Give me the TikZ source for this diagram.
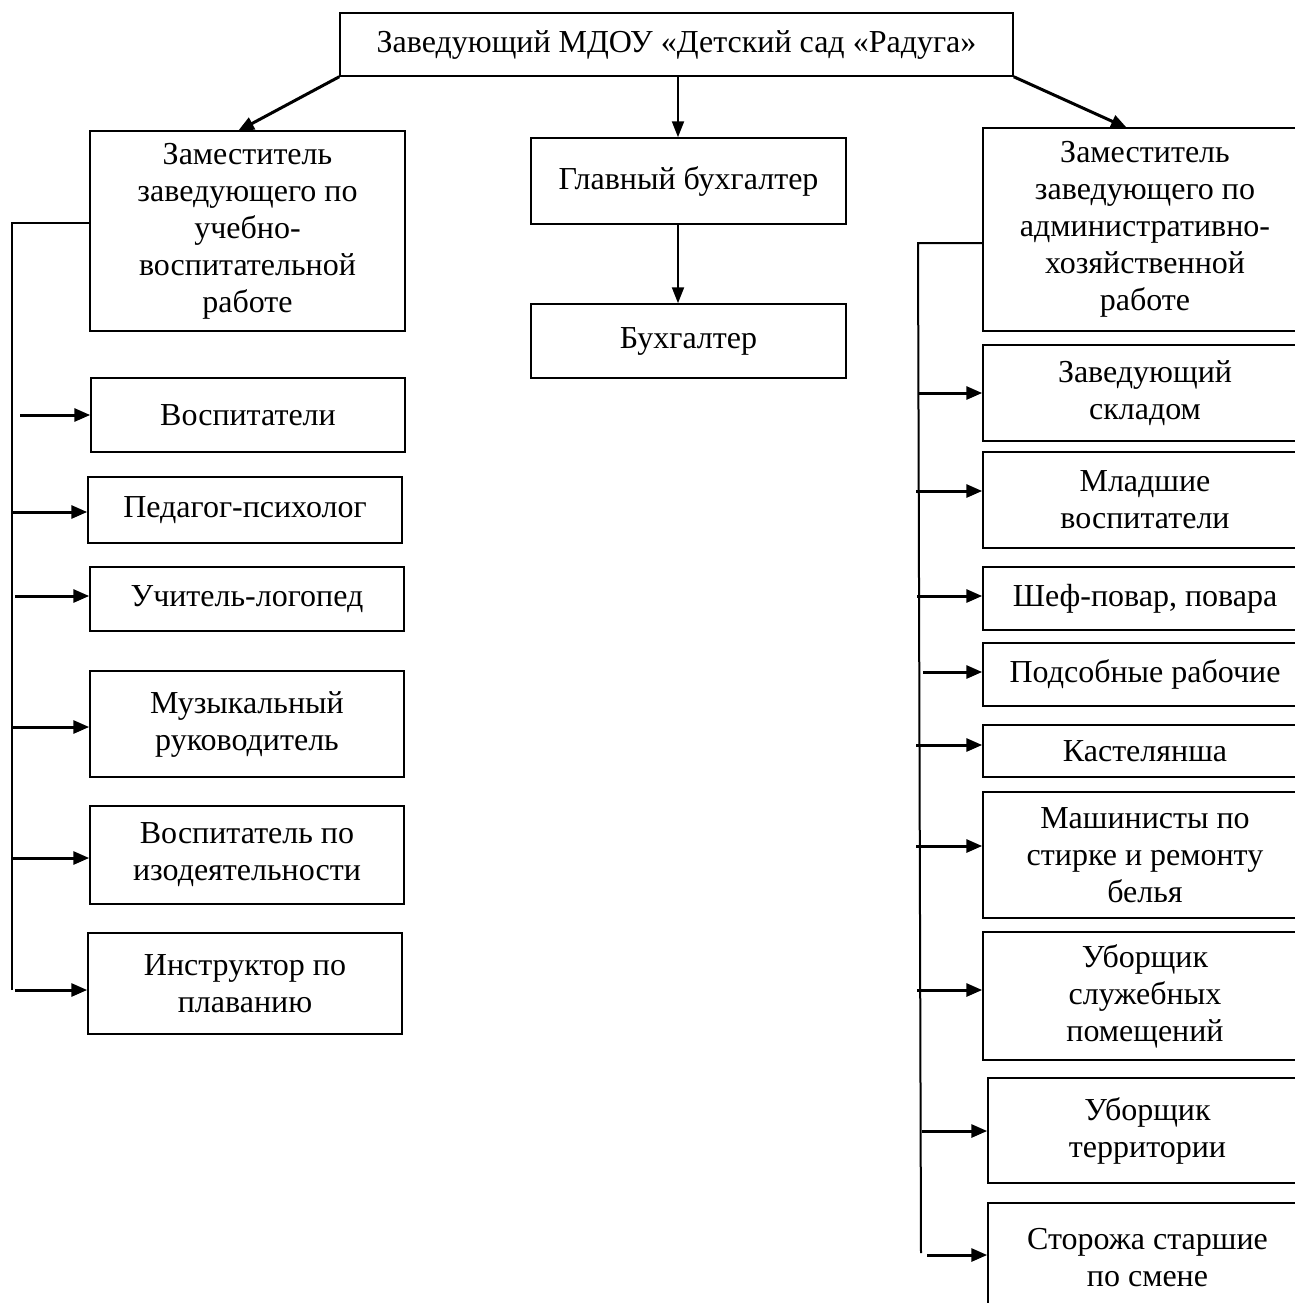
\documentclass[tikz,border=0pt]{standalone}
\usepackage{fontspec}
\setmainfont{Liberation Serif}
\usetikzlibrary{arrows.meta}
\tikzset{
  box/.style={draw, line width=0.75pt, inner sep=0pt, align=center, font=\fontsize{16}{18.5}\selectfont},
  rbox/.style={box, minimum width=162pt},
  arr/.style={line width=1.5pt, -{Triangle[length=8pt,width=6.5pt]}},
  varr/.style={line width=1pt, -{Triangle[length=8pt,width=6pt]}},
  bus/.style={line width=1pt}
}
\begin{document}
\begin{tikzpicture}[x=0.5pt,y=-0.5pt]
\useasboundingbox (0,0) rectangle (1295,1303);
\clip (0,0) rectangle (1295,1303);
% top
\node[box, minimum width=336.5pt, minimum height=31.5pt] (top) at (676.5,44.5) {Заведующий МДОУ «Детский сад «Радуга»};
% left deputy
\node[box, minimum width=157.5pt, minimum height=100pt] (zam1) at (247.5,231) {Заместитель\\заведующего по\\учебно-\\воспитательной\\работе};
% accountants
\node[box, minimum width=157.5pt, minimum height=43pt] (gb) at (688.5,181) {Главный бухгалтер};
\node[box, minimum width=157.5pt, minimum height=37pt] (buh) at (688.5,341) {Бухгалтер};
% right deputy
\node[rbox, minimum height=101.5pt] (zam2) at (1145,229.5) {Заместитель\\заведующего по\\административно-\\хозяйственной\\работе};
% left column
\node[box, minimum width=157pt, minimum height=37pt] (l1) at (248,415) {Воспитатели};
\node[box, minimum width=157pt, minimum height=33pt] (l2) at (245,510) {Педагог-психолог};
\node[box, minimum width=157pt, minimum height=32pt] (l3) at (247,599) {Учитель-логопед};
\node[box, minimum width=157pt, minimum height=53pt] (l4) at (247,724) {Музыкальный\\руководитель};
\node[box, minimum width=157pt, minimum height=49pt] (l5) at (247,855) {Воспитатель по\\изодеятельности};
\node[box, minimum width=157pt, minimum height=50.5pt] (l6) at (245,983.5) {Инструктор по\\плаванию};
% right column
\node[rbox, minimum height=48pt] (r1) at (1145,393) {Заведующий\\складом};
\node[rbox, minimum height=48pt] (r2) at (1145,500) {Младшие\\воспитатели};
\node[rbox, minimum height=31.5pt] (r3) at (1145,598.5) {Шеф-повар, повара};
\node[rbox, minimum height=31.5pt] (r4) at (1145,674.5) {Подсобные рабочие};
\node[rbox, minimum height=26pt] (r5) at (1145,751) {Кастелянша};
\node[rbox, minimum height=63pt] (r6) at (1145,855) {Машинисты по\\стирке и ремонту\\белья};
\node[rbox, minimum height=64pt] (r7) at (1145,996) {Уборщик\\служебных\\помещений};
\node[box, minimum width=159.5pt, minimum height=52.5pt] (r8) at (1147.5,1130.5) {Уборщик\\территории};
\node[box, minimum width=159.5pt, minimum height=55pt] (r9) at (1147.5,1258) {Сторожа старшие\\по смене};
% top connectors
\coordinate (tl) at (238,131);
\coordinate (mx) at (678,0);
\coordinate (tr) at (1127,128);
\draw[arr] (top.south west) -- (tl);
\draw[varr] (top.south -| mx) -- (gb.north -| mx);
\draw[arr] (top.south east) -- (tr);
\draw[varr] (gb.south -| mx) -- (buh.north -| mx);
% left bus
\coordinate (lbt) at (12,223);
\coordinate (lbb) at (12,990);
\draw[bus] (lbb) -- (lbt) -- (lbt -| zam1.west);
\coordinate (la1) at (20,415);
\coordinate (la2) at (12,512);
\coordinate (la3) at (15,596);
\coordinate (la4) at (12,727);
\coordinate (la5) at (12,858);
\coordinate (la6) at (15,990);
\draw[arr] (la1) -- (la1 -| l1.west);
\draw[arr] (la2) -- (la2 -| l2.west);
\draw[arr] (la3) -- (la3 -| l3.west);
\draw[arr] (la4) -- (la4 -| l4.west);
\draw[arr] (la5) -- (la5 -| l5.west);
\draw[arr] (la6) -- (la6 -| l6.west);
% right bus
\coordinate (rbt) at (918,243);
\coordinate (rbb) at (921,1253);
\draw[bus] (rbb) -- (rbt) -- (rbt -| zam2.west);
\coordinate (ra1) at (918,393);
\coordinate (ra2) at (916,491);
\coordinate (ra3) at (917,596);
\coordinate (ra4) at (923,672);
\coordinate (ra5) at (916,745);
\coordinate (ra6) at (916,846);
\coordinate (ra7) at (917,990);
\coordinate (ra8) at (922,1131);
\coordinate (ra9) at (927,1255);
\draw[arr] (ra1) -- (ra1 -| r1.west);
\draw[arr] (ra2) -- (ra2 -| r2.west);
\draw[arr] (ra3) -- (ra3 -| r3.west);
\draw[arr] (ra4) -- (ra4 -| r4.west);
\draw[arr] (ra5) -- (ra5 -| r5.west);
\draw[arr] (ra6) -- (ra6 -| r6.west);
\draw[arr] (ra7) -- (ra7 -| r7.west);
\draw[arr] (ra8) -- (ra8 -| r8.west);
\draw[arr] (ra9) -- (ra9 -| r9.west);
\end{tikzpicture}
\end{document}
